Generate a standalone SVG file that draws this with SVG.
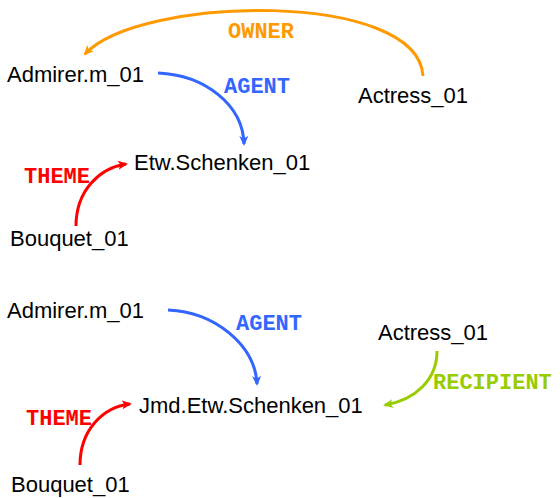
<svg xmlns="http://www.w3.org/2000/svg" width="560" height="498" viewBox="0 0 560 498">
<style>
.n{font-family:"Liberation Sans",Arial,sans-serif;font-size:22px;fill:#000}
.l{font-family:"Liberation Mono","Courier New",monospace;font-size:22px;font-weight:bold}
.c{fill:none;stroke-width:3}
</style>
<defs>
<marker id="ab" viewBox="0 0 10 10" refX="8" refY="5" markerWidth="10" markerHeight="10" markerUnits="userSpaceOnUse" orient="auto"><path d="M0,0.5 L10,5 L0,9.5 L2.5,5 Z" fill="#3366FF"/></marker>
<marker id="ar" viewBox="0 0 10 10" refX="8" refY="5" markerWidth="10" markerHeight="10" markerUnits="userSpaceOnUse" orient="auto"><path d="M0,0.5 L10,5 L0,9.5 L2.5,5 Z" fill="#FF0000"/></marker>
<marker id="ao" viewBox="0 0 10 10" refX="8" refY="5" markerWidth="10" markerHeight="10" markerUnits="userSpaceOnUse" orient="auto"><path d="M0,0.5 L10,5 L0,9.5 L2.5,5 Z" fill="#FF9900"/></marker>
<marker id="ag" viewBox="0 0 10 10" refX="8" refY="5" markerWidth="10" markerHeight="10" markerUnits="userSpaceOnUse" orient="auto"><path d="M0,0.5 L10,5 L0,9.5 L2.5,5 Z" fill="#99CC00"/></marker>
</defs>
<g id="connectors">
<path class="c" stroke="#FF9900" d="M423,76 C418,-10 140,-5 85,54" marker-end="url(#ao)"/>
<path class="c" stroke="#3366FF" d="M158,73 C205,75 243,105 244,144" marker-end="url(#ab)"/>
<path class="c" stroke="#FF0000" d="M76,226 C76,190 100,168 126,164" marker-end="url(#ar)"/>
<path class="c" stroke="#3366FF" d="M168,310 C215,312 255,345 257,384" marker-end="url(#ab)"/>
<path class="c" stroke="#99CC00" d="M437,351 C437,380 415,400 385,405" marker-end="url(#ag)"/>
<path class="c" stroke="#FF0000" d="M80,465 C80,430 103,407 130,404" marker-end="url(#ar)"/>
<text class="l" x="228" y="38" fill="#FF9900">OWNER</text>
<text class="l" x="224" y="93" fill="#3366FF">AGENT</text>
<text class="l" x="24" y="183" fill="#FF0000">THEME</text>
<text class="l" x="236" y="330" fill="#3366FF">AGENT</text>
<text class="l" x="433" y="389" fill="#99CC00">RECIPIENT</text>
<text class="l" x="26" y="425" fill="#FF0000">THEME</text>
</g>
<g id="admirer1"><text class="n" x="7" y="82">Admirer.m_01</text></g>
<g id="actress1"><text class="n" x="358" y="103">Actress_01</text></g>
<g id="schenken1"><text class="n" x="134" y="170">Etw.Schenken_01</text></g>
<g id="bouquet1"><text class="n" x="10" y="246">Bouquet_01</text></g>
<g id="admirer2"><text class="n" x="7" y="318">Admirer.m_01</text></g>
<g id="actress2"><text class="n" x="378" y="340">Actress_01</text></g>
<g id="schenken2"><text class="n" x="139" y="413">Jmd.Etw.Schenken_01</text></g>
<g id="bouquet2"><text class="n" x="11" y="492">Bouquet_01</text></g>
</svg>
